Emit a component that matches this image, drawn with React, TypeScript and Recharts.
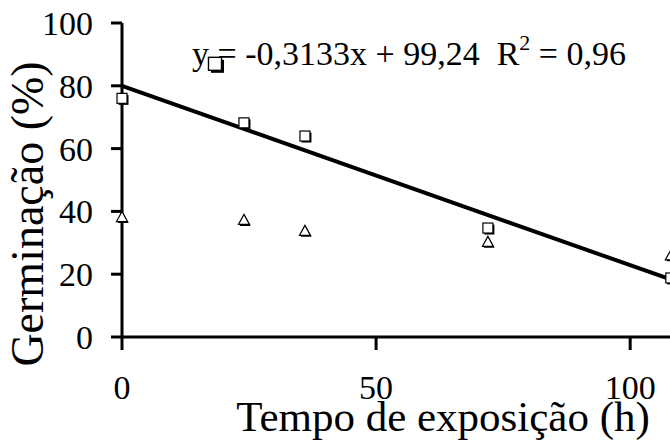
import { ComposedChart, Scatter, Line, XAxis, YAxis } from "recharts"

// exposure time (h)
const hours = [0, 24, 36, 72, 108]
// germination (%) per treatment
const squareValues = [76, 68.2, 64, 34.7, 18.8]
const triangleValues = [38.2, 37.3, 33.8, 30.3, 26]
// fitted line ends
const fitHours = [0, 108]
const fitValues = [80, 18.3]
// the square marker that sits in the equation label
const markerHour = [18.3]
const markerValue = [87]

const xTicks = [0, 50, 100]
const yTicks = [0, 20, 40, 60, 80, 100]

const squares = hours.map((x, i) => ({ x, y: squareValues[i] }))
const triangles = hours.map((x, i) => ({ x, y: triangleValues[i] }))
const fit = fitHours.map((x, i) => ({ x, y: fitValues[i] }))
const marker = markerHour.map((x, i) => ({ x, y: markerValue[i] }))

const font = "Liberation Serif"

function Square(props: any) {
  const { cx, cy } = props
  const s = 10
  return (
    <g>
      <rect x={cx - s / 2 + 1.5} y={cy - s / 2 + 1.5} width={s} height={s} fill="#000" />
      <rect x={cx - s / 2} y={cy - s / 2} width={s} height={s} fill="#fff" stroke="#000" strokeWidth={1.2} />
    </g>
  )
}

function BigSquare(props: any) {
  const { cx, cy } = props
  const s = 13
  return (
    <g>
      <rect x={cx - s / 2 + 2.5} y={cy - s / 2 + 2.5} width={s} height={s} fill="#000" />
      <rect x={cx - s / 2} y={cy - s / 2} width={s} height={s} fill="#fff" stroke="#000" strokeWidth={1.4} />
    </g>
  )
}

function Triangle(props: any) {
  const { cx, cy } = props
  const tri = (dx: number, dy: number) =>
    `M${cx + dx},${cy - 5.5 + dy} L${cx + 5.5 + dx},${cy + 4.5 + dy} L${cx - 5.5 + dx},${cy + 4.5 + dy} Z`
  return (
    <g>
      <path d={tri(1.2, 1.5)} fill="#000" />
      <path d={tri(0, 0)} fill="#fff" stroke="#000" strokeWidth={1.2} />
    </g>
  )
}

const XTitle = () => (
  <text x={443} y={431} textAnchor="middle" fontSize={43} fontFamily={font} fill="#000">
    Tempo de exposição (h)
  </text>
)

const YTitle = () => (
  <text
    x={43}
    y={214}
    transform="rotate(-90, 43, 214)"
    textAnchor="middle"
    fontSize={46}
    fontFamily={font}
    fill="#000"
  >
    Germinação (%)
  </text>
)

export default function App() {
  return (
    <div
      style={{
        position: "absolute",
        left: 0,
        top: 0,
        width: 670,
        height: 444,
        overflow: "hidden",
        background: "#fff",
        fontFamily: font,
      }}
    >
      <ComposedChart width={700} height={444} margin={{ top: 23, right: 19, bottom: 0, left: 0 }}>
        <XAxis
          type="number"
          dataKey="x"
          domain={[0, 110]}
          ticks={xTicks}
          height={107}
          tickSize={13}
          tickMargin={25}
          axisLine={{ stroke: "#000", strokeWidth: 3 }}
          tickLine={{ stroke: "#000", strokeWidth: 3 }}
          tick={{ fill: "#000", fontSize: 34, fontFamily: font }}
          label={{ content: XTitle }}
        />
        <YAxis
          type="number"
          domain={[0, 100]}
          ticks={yTicks}
          width={122}
          tickSize={11}
          tickMargin={18}
          axisLine={{ stroke: "#000", strokeWidth: 3 }}
          tickLine={{ stroke: "#000", strokeWidth: 3 }}
          tick={{ fill: "#000", fontSize: 34, fontFamily: font }}
          label={{ content: YTitle }}
        />
        <Line
          data={fit}
          dataKey="y"
          stroke="#000"
          strokeWidth={4}
          dot={false}
          isAnimationActive={false}
        />
        <Scatter data={squares} dataKey="y" shape={<Square />} isAnimationActive={false} />
        <Scatter data={triangles} dataKey="y" shape={<Triangle />} isAnimationActive={false} />
        <Scatter data={marker} dataKey="y" shape={<BigSquare />} isAnimationActive={false} />
      </ComposedChart>
      <svg
        width={670}
        height={444}
        style={{ position: "absolute", left: 0, top: 0, pointerEvents: "none" }}
      >
        <text x={192} y={65} fontSize={34} fontFamily={font} fill="#000" style={{ whiteSpace: "pre" }}>
          {"y = -0,3133x + 99,24  R"}
          <tspan dy={-15} fontSize={22}>2</tspan>
          <tspan dy={15}>{" = 0,96"}</tspan>
        </text>
      </svg>
    </div>
  )
}
